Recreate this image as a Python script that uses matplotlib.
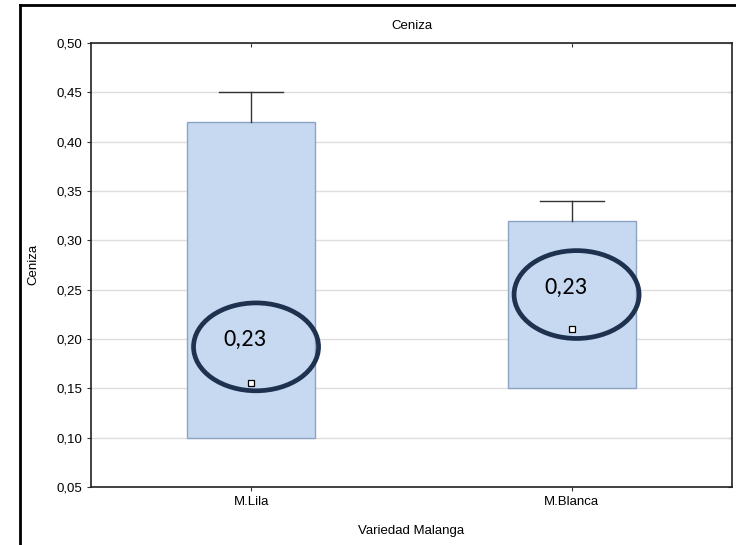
import matplotlib.pyplot as plt
from matplotlib.patches import Ellipse, Rectangle
from matplotlib.lines import Line2D

plt.rcParams['font.family'] = ['Liberation Sans Narrow', 'Liberation Sans', 'DejaVu Sans']

# datos
categorias = ['M.Lila', 'M.Blanca']
caja_inf = [0.10, 0.15]
caja_sup = [0.42, 0.32]
bigote_sup = [0.45, 0.34]
mediana = [0.155, 0.21]
etiquetas = ['0,23', '0,23']
elipse_y = [0.192, 0.245]
texto_y = [0.20, 0.252]
y_ticks = [0.05, 0.10, 0.15, 0.20, 0.25, 0.30, 0.35, 0.40, 0.45, 0.50]

fig = plt.figure(figsize=(7.36, 5.45), dpi=100)
ax = fig.add_axes([0.1236, 0.1064, 0.871, 0.815])

posiciones = [0.5, 1.5]
ancho = 0.40
for x, lo, hi, wh, med in zip(posiciones, caja_inf, caja_sup, bigote_sup, mediana):
    ax.add_patch(Rectangle((x - ancho / 2, lo), ancho, hi - lo,
                           facecolor='#c6d9f0', edgecolor='#8da3c4', lw=1, zorder=2))
    ax.plot([x, x], [hi, wh], color='#333333', lw=1, zorder=3)
    ax.plot([x - 0.1, x + 0.1], [wh, wh], color='#333333', lw=1, zorder=3)
    ax.plot([x], [med], marker='s', ms=4.5, mfc='white', mec='black', mew=0.9, zorder=4)

# anotaciones
for x, ey, ty, t in zip(posiciones, elipse_y, texto_y, etiquetas):
    ax.add_patch(Ellipse((x + 0.015, ey), 0.39, 0.089, fill=False,
                         edgecolor='#1e3250', lw=3.4, zorder=5))
    ax.text(x - 0.02, ty, t, ha='center', va='center', fontsize=17.5,
            family=['Carlito', 'Liberation Sans', 'DejaVu Sans'], zorder=6)

ax.set_xlim(0, 2)
ax.set_ylim(0.05, 0.50)
ax.set_xticks(posiciones)
ax.set_xticklabels(categorias)
ax.set_yticks(y_ticks)
ax.set_yticklabels([f'{v:.2f}'.replace('.', ',') for v in y_ticks])
ax.tick_params(labelsize=9.5, length=3, color='#333333', direction='out')
ax.grid(axis='y', color='#dddddd', lw=1)
ax.set_axisbelow(True)
for s in ax.spines.values():
    s.set_color('#222222')
    s.set_linewidth(1.2)

# marcas interiores arriba y a la derecha
sup = ax.secondary_xaxis('top')
sup.set_xticks(posiciones)
sup.tick_params(direction='in', length=3, labeltop=False, color='#333333')
sup.spines['top'].set_visible(False)
der = ax.secondary_yaxis('right')
der.set_yticks(y_ticks)
der.tick_params(direction='in', length=3, labelright=False, color='#333333')
der.spines['right'].set_visible(False)

ax.set_title('Ceniza', fontsize=9.5, pad=10)
ax.set_ylabel('Ceniza', fontsize=9.5, labelpad=12)
ax.set_xlabel('Variedad Malanga', fontsize=9.5, labelpad=12)

# marco exterior
fig.add_artist(Line2D([20 / 736, 1], [1 - 5 / 545, 1 - 5 / 545], color='black', lw=2))
fig.add_artist(Line2D([20 / 736, 20 / 736], [0, 1 - 5 / 545], color='black', lw=2))

fig.savefig('out.png', dpi=100, facecolor='white')
